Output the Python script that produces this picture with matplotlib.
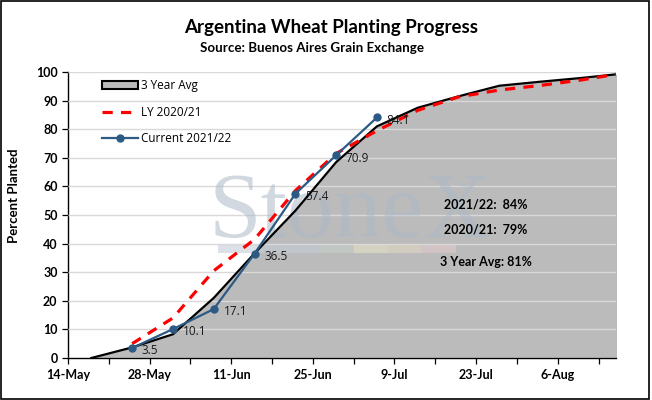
import matplotlib
matplotlib.use("Agg")
import matplotlib.pyplot as plt
import matplotlib.dates as mdates
import numpy as np
import pandas as pd
from matplotlib.patches import Rectangle, Patch
from matplotlib.lines import Line2D

# ---- data ----
avg_dates = ["2021-05-18", "2021-05-25", "2021-06-01", "2021-06-08", "2021-06-15",
             "2021-06-22", "2021-06-29", "2021-07-06", "2021-07-13", "2021-07-20",
             "2021-07-27", "2021-08-03", "2021-08-10", "2021-08-17"]
avg_values = [0, 3.7, 8.3, 21.0, 36.6, 51.5, 68.5, 81.0, 87.5, 91.5, 95.2, 96.6, 97.9, 99.4]

ly_dates = ["2021-05-25", "2021-06-01", "2021-06-08", "2021-06-15", "2021-06-22",
            "2021-06-29", "2021-07-06", "2021-07-13", "2021-07-20", "2021-07-27",
            "2021-08-03", "2021-08-10", "2021-08-17"]
ly_values = [5.0, 14.0, 30.5, 41.5, 58.5, 71.5, 79.5, 86.6, 91.3, 93.7, 95.3, 97.2, 99.5]

cur_dates = ["2021-05-25", "2021-06-01", "2021-06-08", "2021-06-15", "2021-06-22",
             "2021-06-29", "2021-07-06"]
cur_values = [3.5, 10.1, 17.1, 36.5, 57.4, 70.9, 84.1]

title = "Argentina Wheat Planting Progress"
subtitle = "Source: Buenos Aires Grain Exchange"
ylabel = "Percent Planted"
legend_labels = ["3 Year Avg", "LY 2020/21", "Current 2021/22"]
summary_lines = ["2021/22:  84%", "2020/21:  79%", "3 Year Avg: 81%"]
x_start, x_end = "2021-05-14", "2021-08-16"

avg_d = pd.to_datetime(avg_dates)
ly_d = pd.to_datetime(ly_dates)
cur_d = pd.to_datetime(cur_dates)

FONT = ["Lato", "DejaVu Sans"]
plt.rcParams["font.family"] = FONT

fig = plt.figure(figsize=(6.52, 4.0), dpi=100)
fig.patch.set_facecolor("white")
fig.add_artist(Rectangle((0.0015, 0.002), 0.9935, 0.995, transform=fig.transFigure,
                         fill=False, edgecolor="black", linewidth=1.2))

ax = fig.add_axes([68 / 652, 42 / 400, 548 / 652, 286 / 400])

# 3-year average area
ax.fill_between(avg_d, avg_values, 0, color="#BBBBBB", zorder=1, linewidth=0)
ax.plot(avg_d, avg_values, color="black", linewidth=1.6, zorder=4)
# LY
ax.plot(ly_d, ly_values, color="#FF0000", linewidth=2.3, linestyle=(0, (3.2, 2.6)), zorder=5)
# current
ax.plot(cur_d, cur_values, color="#2C5A85", linewidth=1.6, marker="o", markersize=5, zorder=6)
for d, v in zip(cur_d, cur_values):
    ax.annotate(f"{v:.1f}", (d, v), xytext=(7, -2), textcoords="offset points",
                fontsize=8.5, va="center", ha="left", color="#1a1a1a", zorder=7,
                family=["Open Sans", "DejaVu Sans"])

ax.set_xlim(pd.Timestamp(x_start), pd.Timestamp(x_end))
ax.set_ylim(0, 100)
ax.set_yticks(np.arange(0, 101, 10))
major = pd.date_range(x_start, x_end, freq="14D")
minor = pd.date_range(x_start, x_end, freq="7D")
ax.set_xticks(major)
ax.set_xticks(minor, minor=True)
ax.xaxis.set_major_formatter(mdates.DateFormatter("%-d-%b"))

for lbl in ax.get_xticklabels() + ax.get_yticklabels():
    lbl.set_fontweight("bold")
    lbl.set_fontsize(9)
ax.tick_params(axis="both", which="both", direction="out", length=4, width=0.9, color="black")
ax.tick_params(axis="x", pad=4)

ax.spines["top"].set_visible(False)
ax.spines["right"].set_visible(False)
ax.spines["left"].set_linewidth(1.0)
ax.spines["bottom"].set_linewidth(1.0)
ax.set_axisbelow(False)
ax.yaxis.grid(True, color="#D9D9D9", linewidth=1.0, zorder=2)
for gl in ax.yaxis.get_gridlines():
    gl.set_zorder(2)
ax.set_ylabel(ylabel, fontsize=9.5, fontweight="bold")
ax.yaxis.set_label_coords(-0.088, 0.566)

# watermark
ax.text(0.515, 0.423, "StoneX", transform=ax.transAxes, fontsize=68,
        family=["Liberation Serif", "DejaVu Serif"], color="#AEB9C6", alpha=0.55,
        ha="center", va="baseline", zorder=3)
ax.text(0.712, 0.598, "TM", transform=ax.transAxes, fontsize=5,
        color="#AEB9C6", alpha=0.55, ha="left", va="center", zorder=3)
stripe_colors = ["#C3CDD7", "#C3CDD7", "#C3CDD7", "#C6D1CA", "#E6E2C4", "#E3D7C4", "#E3CBCB"]
sx = 218
widths = [34, 34, 34, 34, 34, 33, 35]
for c, w in zip(stripe_colors, widths):
    x0 = (sx - 68) / 548
    ax.add_patch(Rectangle((x0, (358 - 253) / 286), w / 548, 8 / 286, transform=ax.transAxes,
                           facecolor=c, edgecolor="none", alpha=0.6, zorder=3))
    sx += w

# summary text
ax.text(0.763, 0.535, summary_lines[0], transform=ax.transAxes, fontsize=9,
        fontweight="bold", ha="center", va="center", zorder=7)
ax.text(0.763, 0.448, summary_lines[1], transform=ax.transAxes, fontsize=9,
        fontweight="bold", ha="center", va="center", zorder=7)
ax.text(0.763, 0.336, summary_lines[2], transform=ax.transAxes, fontsize=9,
        fontweight="bold", ha="center", va="center", zorder=7)

# legend
handles = [Patch(facecolor="#BBBBBB", edgecolor="black", linewidth=1.5),
           Line2D([], [], color="#FF0000", linewidth=2.3, linestyle=(0, (3.2, 2.6))),
           Line2D([], [], color="#2C5A85", linewidth=1.6, marker="o", markersize=5)]
leg = ax.legend(handles, legend_labels, loc="upper left", bbox_to_anchor=(0.05, 1.0),
                frameon=False, fontsize=8.5, handlelength=3.0, handleheight=0.6,
                labelspacing=1.15, handletextpad=0.3, borderaxespad=0.2)
for t in leg.get_texts():
    t.set_family(["Open Sans", "DejaVu Sans"])

fig.text(331 / 652, 1 - 28 / 400, title, ha="center", va="center", fontsize=13.5,
         fontweight="bold")
fig.text(312 / 652, 1 - 48 / 400, subtitle, ha="center", va="center", fontsize=9.6,
         fontweight="bold")

fig.savefig("out.png", dpi=100, facecolor="white")
